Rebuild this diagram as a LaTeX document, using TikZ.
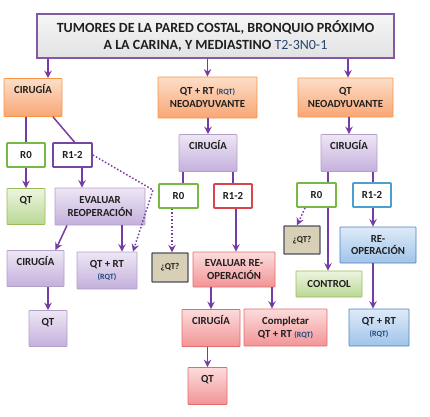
\documentclass[tikz,border=0pt]{standalone}
\usepackage{fontspec}
\setmainfont{Carlito}
\usepackage{tikz}
\usetikzlibrary{arrows.meta,positioning,calc}
\usepackage{xcolor}
\definecolor{flowpurple}{RGB}{118,60,165}
\definecolor{titleline}{RGB}{128,90,165}
\definecolor{titletop}{RGB}{246,246,246}
\definecolor{titlebot}{RGB}{226,226,228}
\definecolor{orline}{RGB}{247,150,70}
\definecolor{ortop}{RGB}{252,222,200}
\definecolor{orbot}{RGB}{248,166,116}
\definecolor{puline}{RGB}{178,160,199}
\definecolor{putop}{RGB}{238,230,245}
\definecolor{pubot}{RGB}{196,176,220}
\definecolor{grline}{RGB}{155,187,89}
\definecolor{grtop}{RGB}{236,245,224}
\definecolor{grbot}{RGB}{186,216,148}
\definecolor{reline}{RGB}{226,107,107}
\definecolor{retop}{RGB}{252,220,220}
\definecolor{rebot}{RGB}{242,148,150}
\definecolor{blline}{RGB}{79,129,189}
\definecolor{bltop}{RGB}{222,234,248}
\definecolor{blbot}{RGB}{160,196,234}
\definecolor{rzero}{RGB}{120,185,70}
\definecolor{ronepu}{RGB}{118,70,160}
\definecolor{ronere}{RGB}{215,70,75}
\definecolor{ronebl}{RGB}{75,160,210}
\definecolor{qqfill}{RGB}{216,208,182}
\definecolor{qqline}{RGB}{80,80,96}
\definecolor{rqtblue}{RGB}{31,73,125}
\definecolor{stagecol}{RGB}{40,70,110}
\newcommand{\rqt}{{\fontsize{8}{9.5}\selectfont\color{rqtblue}(RQT)}}
\tikzset{
  bx/.style={rounded corners=0.6pt,align=center,inner sep=1pt,line width=0.8pt,
    font=\fontsize{10.8}{12.8}\selectfont\bfseries,text=black!88},
  bxo/.style={bx,draw=orline,top color=ortop,bottom color=orbot},
  bxp/.style={bx,draw=puline,top color=putop,bottom color=pubot},
  bxg/.style={bx,draw=grline,top color=grtop,bottom color=grbot},
  bxr/.style={bx,draw=reline,top color=retop,bottom color=rebot},
  bxb/.style={bx,draw=blline,top color=bltop,bottom color=blbot},
  rbox/.style={bx,fill=white,line width=1.8pt,inner sep=0pt},
  qbox/.style={bx,draw=qqline,fill=qqfill,line width=1.3pt,font=\fontsize{9}{11}\selectfont\bfseries},
  uptext/.style={inner ysep=0pt,text height=15pt,text depth=#1},
  flow/.style={-{Stealth[length=7.5pt,width=7.5pt,inset=2.5pt]},line width=1.5pt,draw=flowpurple},
  dotflow/.style={flow,dotted},
  link/.style={line width=1.5pt,draw=flowpurple}
}
\begin{document}
\begin{tikzpicture}[x=1pt,y=-1pt]
  \useasboundingbox (0,0) rectangle (430,416);
  % title
  \node[draw=titleline,line width=2.6pt,top color=titletop,bottom color=titlebot,minimum width=357pt,minimum height=44pt,
    align=center,font=\fontsize{14}{17}\selectfont\bfseries,text=black!88] (title) at (215.5,36)
    {TUMORES DE LA PARED COSTAL, BRONQUIO PRÓXIMO\\A LA CARINA, Y MEDIASTINO {\mdseries\color{stagecol}T2-3N0-1}};
  % first row
  \node[bxo,minimum width=58pt,uptext=23pt] (orL) at (33,97.5) {CIRUGÍA};
  \node[bxo,minimum width=99pt,minimum height=41pt] (orM) at (207.5,97.5) {QT + RT \rqt\\NEOADYUVANTE};
  \node[bxo,minimum width=95pt,minimum height=39pt] (orR) at (345.5,97.5) {QT\\NEOADYUVANTE};
  % left branch
  \node[rbox,draw=rzero,minimum width=38pt,minimum height=24pt] (r0L) at (26,155) {R0};
  \node[rbox,draw=ronepu,minimum width=39pt,minimum height=24pt] (r1L) at (72.5,155) {R1-2};
  \node[bxg,minimum width=38pt,uptext=21pt] (qtG) at (26,206.5) {QT};
  \node[bxp,minimum width=90pt,minimum height=37pt] (evL) at (100,206.5) {EVALUAR\\REOPERACIÓN};
  \node[bxp,minimum width=57pt,uptext=21pt] (cirPL) at (35.5,268.5) {CIRUGÍA};
  \node[bxp,minimum width=60pt,minimum height=37pt] (qtrtP) at (107,270.5) {QT + RT\\\rqt};
  \node[bxp,minimum width=38pt,uptext=21pt] (qtP) at (48,328.5) {QT};
  \coordinate (bend) at (153,190);
  % middle branch
  \node[bxp,minimum width=58pt,uptext=22pt] (cirM) at (208,153) {CIRUGÍA};
  \node[rbox,draw=rzero,minimum width=39pt,minimum height=24pt] (r0M) at (178.5,196) {R0};
  \node[rbox,draw=ronere,minimum width=38pt,minimum height=24pt] (r1M) at (233,196) {R1-2};
  \node[qbox,minimum width=36pt,minimum height=29pt] (qQM) at (170,267.5) {¿QT?};
  \node[bxr,minimum width=82pt,minimum height=35pt] (evM) at (234,269.5) {EVALUAR RE-\\OPERACIÓN};
  \node[bxr,minimum width=58pt,uptext=22pt] (cirR) at (211,328) {CIRUGÍA};
  \node[bxr,minimum width=83pt,minimum height=37pt] (compl) at (285.5,327.5) {Completar\\QT + RT \rqt};
  \node[bxr,minimum width=39pt,uptext=22pt] (qtR) at (207.5,386) {QT};
  % right branch
  \node[bxp,minimum width=56pt,uptext=22pt] (cirRt) at (349,153) {CIRUGÍA};
  \node[rbox,draw=rzero,minimum width=39pt,minimum height=24pt] (r0R) at (316.5,195) {R0};
  \node[rbox,draw=ronebl,minimum width=38pt,minimum height=24pt] (r1R) at (372,195) {R1-2};
  \node[qbox,minimum width=36pt,minimum height=28pt] (qQR) at (302,240) {¿QT?};
  \node[bxg,minimum width=66pt,minimum height=26pt] (ctrl) at (329,284) {CONTROL};
  \node[bxb,minimum width=76pt,minimum height=36pt] (reop) at (378,245) {RE-\\OPERACIÓN};
  \node[bxb,minimum width=60pt,minimum height=37pt] (qtrtB) at (379,327.5) {QT + RT\\\rqt};
  % connectors
  \draw[flow] ([xshift=15pt]orL.north |- title.south) -- ([xshift=15pt]orL.north);
  \draw[flow] (title.south -| orM.north) -- (orM.north);
  \draw[flow] ([xshift=2.5pt]orR.north |- title.south) -- ([xshift=2.5pt]orR.north);
  \draw[link] (r0L.north |- orL.south) -- (r0L.north);
  \draw[link] ([xshift=20pt]orL.south) -- ([xshift=2pt]r1L.north);
  \draw[flow] (r0L.south) -- (qtG.north);
  \draw[flow] ([xshift=9.5pt]r1L.south) -- ([xshift=9.5pt]r1L.south |- evL.north);
  \draw[dotflow] (r1L.east) -- (bend) -- ([xshift=26pt]qtrtP.north);
  \draw[flow] ([xshift=-33pt]evL.south) -- ([xshift=20pt]cirPL.north);
  \draw[flow] ([xshift=22pt]evL.south) -- ([xshift=22pt]evL.south |- qtrtP.north);
  \draw[flow] (cirPL.south -| qtP.north) -- (qtP.north);
  \draw[flow] (orM.south -| cirM.north) -- (cirM.north);
  \draw[link] ([xshift=-25pt]cirM.south) -- ([xshift=-25pt]cirM.south |- r0M.north);
  \draw[link] ([xshift=25pt]cirM.south) -- ([xshift=25pt]cirM.south |- r1M.north);
  \draw[dotflow] ([xshift=-6.5pt]r0M.south) -- ([xshift=-6.5pt]r0M.south |- qQM.north);
  \draw[flow] ([xshift=3pt]r1M.south) -- ([xshift=3pt]r1M.south |- evM.north);
  \draw[flow] (evM.south -| cirR.north) -- (cirR.north);
  \draw[flow] ([xshift=-13.5pt]compl.north |- evM.south) -- ([xshift=-13.5pt]compl.north);
  \draw[flow] (cirR.south -| qtR.north) -- (qtR.north);
  \draw[flow] (orR.south -| cirRt.north) -- (cirRt.north);
  \draw[link] ([xshift=-21pt]cirRt.south) -- ([xshift=-21pt]cirRt.south |- r0R.north);
  \draw[link] ([xshift=24pt]cirRt.south) -- ([xshift=24pt]cirRt.south |- r1R.north);
  \draw[flow] ([xshift=11.5pt]r0R.south) -- ([xshift=11.5pt]r0R.south |- ctrl.north);
  \draw[dotflow] ([xshift=-11.5pt]r0R.south) -- ([xshift=-5pt]qQR.north);
  \draw[flow] ([xshift=1pt]r1R.south) -- ([xshift=1pt]r1R.south |- reop.north);
  \draw[flow] ([xshift=-5pt]reop.south) -- ([xshift=-5pt]reop.south |- qtrtB.north);
\end{tikzpicture}
\end{document}
